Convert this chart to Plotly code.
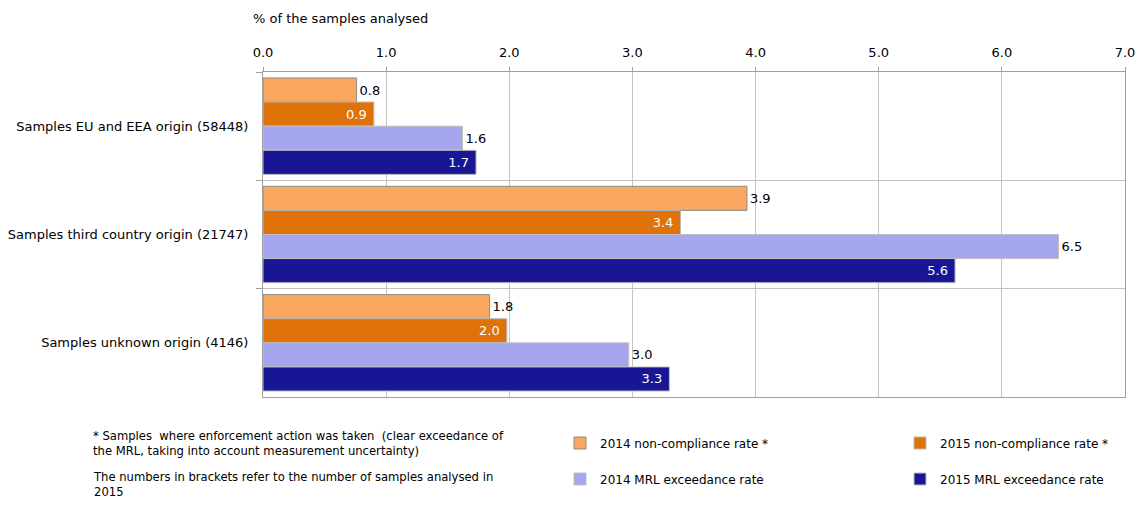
import plotly.graph_objects as go

categories = [
    "Samples EU and EEA origin (58448)",
    "Samples third country origin (21747)",
    "Samples unknown origin (4146)",
]
series_names = [
    "2014 non-compliance rate *",
    "2015 non-compliance rate *",
    "2014 MRL exceedance rate",
    "2015 MRL exceedance rate",
]
nc_2014 = [0.76, 3.93, 1.84]
nc_2015 = [0.90, 3.39, 1.98]
mrl_2014 = [1.62, 6.46, 2.97]
mrl_2015 = [1.73, 5.62, 3.30]
x_ticks = [0, 1, 2, 3, 4, 5, 6, 7]

colors = ["#FAA860", "#E0720A", "#A6A6EE", "#181694"]
line_colors = ["#8c8c8c", "#b8b8b8", "#c0c0c0", "#c0c0c0"]
series = [nc_2014, nc_2015, mrl_2014, mrl_2015]
legend_ids = ["legend", "legend", "legend2", "legend2"]
font_family = "DejaVu Sans, Verdana, sans-serif"

fig = go.Figure()
for i, (name, vals) in enumerate(zip(series_names, series)):
    inside = i in (1, 3)
    fig.add_trace(go.Bar(
        y=categories,
        x=vals,
        name=name,
        orientation="h",
        marker=dict(color=colors[i], line=dict(color=line_colors[i], width=1)),
        texttemplate="%{x:.1f}\u00a0" if inside else "%{x:.1f}",
        textposition="inside" if inside else "outside",
        insidetextanchor="end",
        textfont=dict(size=13, color="#ffffff" if inside else "#000000", family=font_family),
        cliponaxis=False,
        legend=legend_ids[i],
        hoverinfo="x+name",
    ))

fig.update_layout(
    width=1140,
    height=505,
    margin=dict(l=263, r=15, t=72, b=108),
    paper_bgcolor="#ffffff",
    plot_bgcolor="#ffffff",
    barmode="group",
    bargap=0.11,
    bargroupgap=0,
    font=dict(family=font_family, size=13, color="#000000"),
    xaxis=dict(
        side="top",
        range=[0, 7],
        tickvals=x_ticks,
        tickformat=".1f",
        showgrid=True,
        gridcolor="#c4c4c4",
        gridwidth=1,
        showline=True,
        linecolor="#a0a0a0",
        mirror=True,
        ticks="outside",
        ticklen=4,
        tickcolor="#a0a0a0",
        ticklabelstandoff=5,
        zeroline=False,
        automargin=False,
        tickfont=dict(size=13),
        fixedrange=True,
    ),
    yaxis=dict(
        type="category",
        autorange="reversed",
        tickson="boundaries",
        showgrid=True,
        gridcolor="#c4c4c4",
        showline=True,
        linecolor="#a0a0a0",
        mirror=True,
        ticks="outside",
        ticklen=6,
        tickcolor="#a0a0a0",
        ticklabelstandoff=11,
        automargin=False,
        tickfont=dict(size=13),
        fixedrange=True,
    ),
    legend=dict(
        orientation="h",
        xref="container", yref="container",
        x=560 / 1140, y=1 - 443 / 505,
        xanchor="left", yanchor="middle",
        entrywidth=295, entrywidthmode="pixels",
        font=dict(size=12),
        traceorder="normal",
        bgcolor="rgba(0,0,0,0)",
    ),
    legend2=dict(
        orientation="h",
        xref="container", yref="container",
        x=560 / 1140, y=1 - 479 / 505,
        xanchor="left", yanchor="middle",
        entrywidth=295, entrywidthmode="pixels",
        font=dict(size=12),
        traceorder="normal",
        bgcolor="rgba(0,0,0,0)",
    ),
    annotations=[
        dict(
            text="% of the samples analysed",
            xref="paper", yref="paper",
            x=(251 - 263) / 862, y=1 + (72 - 18) / 325,
            xanchor="left", yanchor="middle",
            showarrow=False, font=dict(size=13),
        ),
        dict(
            text="* Samples  where enforcement action was taken  (clear exceedance of<br>the MRL, taking into account measurement uncertainty)",
            xref="paper", yref="paper",
            x=(91 - 263) / 862, y=(397 - 443.5) / 325,
            xanchor="left", yanchor="middle", align="left",
            showarrow=False, font=dict(size=11.6),
        ),
        dict(
            text="The numbers in brackets refer to the number of samples analysed in<br>2015",
            xref="paper", yref="paper",
            x=(91 - 263) / 862, y=(397 - 484.5) / 325,
            xanchor="left", yanchor="middle", align="left",
            showarrow=False, font=dict(size=11.6),
        ),
    ],
)

fig.write_html(
    "out.html",
    config={"displayModeBar": False},
    post_script="document.body.style.margin='0';",
)
